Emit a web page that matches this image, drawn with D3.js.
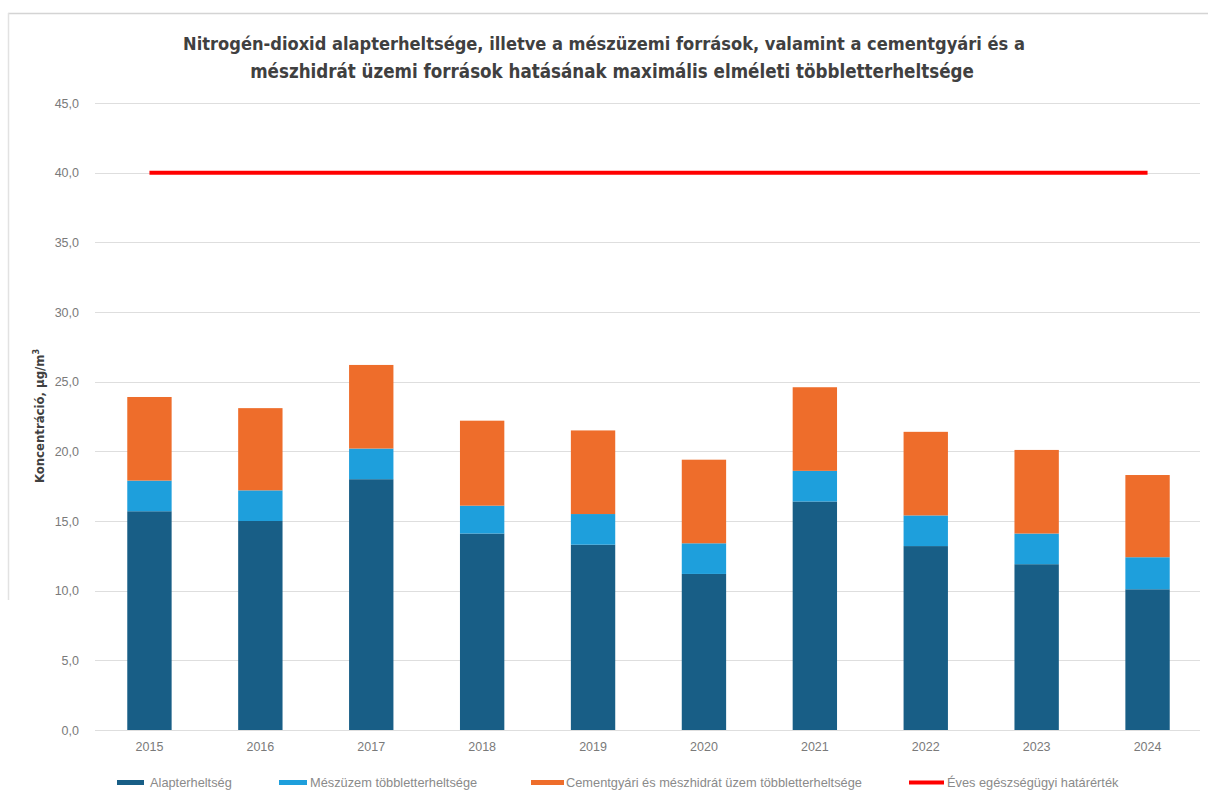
<!DOCTYPE html>
<html>
<head>
<meta charset="utf-8">
<script src="https://cdn.jsdelivr.net/npm/d3@7"></script>
<style>
  html, body { margin: 0; padding: 0; background: #ffffff; }
  svg { display: block; }
</style>
</head>
<body>
<svg id="chart" width="1208" height="796"></svg>
<script>
// Years on the category axis
const years = ["2015", "2016", "2017", "2018", "2019", "2020", "2021", "2022", "2023", "2024"];
// Background NO2 level (µg/m³)
const alapterheltseg = [15.7, 15.0, 18.0, 14.1, 13.3, 11.2, 16.4, 13.2, 11.9, 10.1];
// Additional load from the lime plant
const meszuzem = [2.2, 2.2, 2.2, 2.0, 2.2, 2.2, 2.2, 2.2, 2.2, 2.3];
// Additional load from the cement plant and hydrated lime plant
const cementgyar = [6.0, 5.9, 6.0, 6.1, 6.0, 6.0, 6.0, 6.0, 6.0, 5.9];
// Annual health limit value
const hatarertek = [40, 40, 40, 40, 40, 40, 40, 40, 40, 40];
// Value axis ticks
const yTicks = [0, 5, 10, 15, 20, 25, 30, 35, 40, 45];

const seriesNames = [
  "Alapterheltség",
  "Mészüzem többletterheltsége",
  "Cementgyári és mészhidrát üzem többletterheltsége",
  "Éves egészségügyi határérték"
];
const colors = ["#185e86", "#1e9fdc", "#ee6d2b", "#ff0000"];

const svg = d3.select("#chart");
const font = "'Liberation Sans', Arial, sans-serif";
const narrow = "'Liberation Sans Narrow', 'DejaVu Sans Condensed', 'Liberation Sans', sans-serif";

// outer frame edges (top and left)
svg.append("line").attr("x1", 8).attr("x2", 1208).attr("y1", 13.5).attr("y2", 13.5)
  .attr("stroke", "#d4d4d4").attr("stroke-width", 1.5);
svg.append("line").attr("x1", 8.5).attr("x2", 8.5).attr("y1", 13).attr("y2", 600)
  .attr("stroke", "#e2e2e2").attr("stroke-width", 1.5);

const plot = { left: 94, right: 1203, top: 103, bottom: 730 };

const x = d3.scaleBand().domain(years).range([plot.left, plot.right]).paddingInner(0.6).paddingOuter(0.3);
const y = d3.scaleLinear().domain([0, 45]).range([plot.bottom, plot.top]);

// gridlines
svg.append("g").selectAll("line").data(yTicks).join("line")
  .attr("x1", 95).attr("x2", 1200)
  .attr("y1", d => Math.round(y(d)) + 0.5).attr("y2", d => Math.round(y(d)) + 0.5)
  .attr("stroke", "#dedede").attr("stroke-width", 1);

// y axis labels
const yAxis = d3.axisLeft(y).tickValues(yTicks).tickSize(0).tickPadding(0)
  .tickFormat(d => d3.format(".1f")(d).replace(".", ","));
const gy = svg.append("g").attr("transform", "translate(79,0)").call(yAxis);
gy.select(".domain").remove();
gy.selectAll("text").attr("font-family", font).attr("font-size", 12.5).attr("fill", "#7a7a7a");

// stacked bars
const rows = years.map((yr, i) => ({ year: yr, a: alapterheltseg[i], m: meszuzem[i], c: cementgyar[i] }));
const stack = d3.stack().keys(["a", "m", "c"])(rows);
svg.append("g").selectAll("g").data(stack).join("g")
  .attr("fill", (d, i) => colors[i])
  .selectAll("rect").data(d => d).join("rect")
  .attr("x", d => x(d.data.year))
  .attr("width", x.bandwidth())
  .attr("y", d => y(d[1]))
  .attr("height", d => y(d[0]) - y(d[1]));

// limit line
const line = d3.line().x((d, i) => x(years[i]) + x.bandwidth() / 2).y(d => y(d));
svg.append("path").datum(hatarertek).attr("d", line)
  .attr("fill", "none").attr("stroke", colors[3]).attr("stroke-width", 4);

// x axis labels
const xAxis = d3.axisBottom(x).tickSize(0).tickPadding(0);
const gx = svg.append("g").attr("transform", "translate(0,742)").call(xAxis);
gx.select(".domain").remove();
gx.selectAll("text").attr("font-family", font).attr("font-size", 12.5).attr("fill", "#7a7a7a");

// y axis title
svg.append("text")
  .attr("transform", "translate(44,416) rotate(-90)")
  .attr("text-anchor", "middle")
  .attr("font-family", narrow).attr("font-weight", "bold").attr("font-size", 13).attr("fill", "#404040")
  .text("Koncentráció, µg/m")
  .append("tspan").attr("dy", -5).attr("font-size", 9).text("3");

// title, fitted to its line widths
const titleLines = [
  { t: "Nitrogén-dioxid alapterheltsége, illetve a mészüzemi források, valamint a cementgyári és a", cx: 604, cy: 50, w: 842 },
  { t: "mészhidrát üzemi források hatásának maximális elméleti többletterheltsége", cx: 612, cy: 78, w: 724 }
];
titleLines.forEach(l => {
  const t = svg.append("text")
    .attr("x", l.cx).attr("y", l.cy).attr("text-anchor", "middle")
    .attr("font-family", narrow).attr("font-weight", "bold").attr("font-size", 19).attr("fill", "#404040")
    .text(l.t);
  const len = t.node().getComputedTextLength();
  t.attr("font-size", 19 * l.w / len);
});

// legend
const legend = [
  { sx: 117, sw: 27, tx: 150, type: "rect" },
  { sx: 279, sw: 28, tx: 310, type: "rect" },
  { sx: 531, sw: 33, tx: 566, type: "rect" },
  { sx: 909, sw: 35, tx: 947, type: "line" }
];
const lg = svg.append("g");
legend.forEach((d, i) => {
  if (d.type === "rect") {
    lg.append("rect").attr("x", d.sx).attr("y", 780).attr("width", d.sw).attr("height", 5).attr("fill", colors[i]);
  } else {
    lg.append("line").attr("x1", d.sx).attr("x2", d.sx + d.sw).attr("y1", 782.5).attr("y2", 782.5)
      .attr("stroke", colors[i]).attr("stroke-width", 4);
  }
  lg.append("text").attr("x", d.tx).attr("y", 787)
    .attr("font-family", font).attr("font-size", 12.8).attr("fill", "#8a8a8a")
    .text(seriesNames[i]);
});
</script>
</body>
</html>
